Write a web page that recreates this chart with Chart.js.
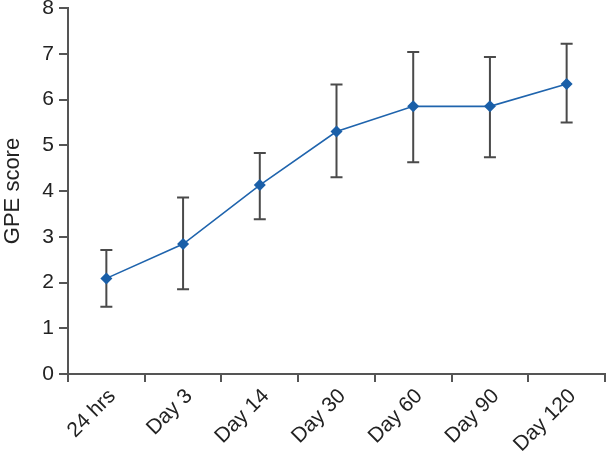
<!DOCTYPE html>
<html><head><meta charset="utf-8">
<script src="https://cdn.jsdelivr.net/npm/chart.js@4/dist/chart.umd.min.js"></script>
<style>html,body{margin:0;padding:0;background:#fff;overflow:hidden}#wrap{width:607px;height:456px;overflow:hidden}</style>
</head><body><div id="wrap"><canvas id="c" width="611" height="456"></canvas></div>
<script>
const categories = ["24 hrs","Day 3","Day 14","Day 30","Day 60","Day 90","Day 120"];
const meanScore = [2.09, 2.84, 4.13, 5.30, 5.85, 5.85, 6.34];
const upperBound = [2.71, 3.86, 4.83, 6.33, 7.04, 6.93, 7.22];
const lowerBound = [1.47, 1.85, 3.38, 4.30, 4.63, 4.74, 5.50];
const yTicks = [0,1,2,3,4,5,6,7,8];

const errorBars = {
  id: 'errorBars',
  beforeDatasetsDraw(chart) {
    const ctx = chart.ctx, xs = chart.scales.x, ys = chart.scales.y;
    ctx.save();
    ctx.strokeStyle = '#4a4a4a';
    ctx.lineWidth = 2;
    categories.forEach((c, i) => {
      const x = xs.getPixelForValue(i);
      const yt = ys.getPixelForValue(upperBound[i]);
      const yb = ys.getPixelForValue(lowerBound[i]);
      ctx.beginPath();
      ctx.moveTo(x, yt); ctx.lineTo(x, yb);
      ctx.moveTo(x - 6, yt); ctx.lineTo(x + 6, yt);
      ctx.moveTo(x - 6, yb); ctx.lineTo(x + 6, yb);
      ctx.stroke();
    });
    ctx.restore();
  }
};

const fam = "'Liberation Sans', Arial, sans-serif";
new Chart(document.getElementById('c'), {
  type: 'line',
  data: {
    labels: categories,
    datasets: [{
      data: meanScore,
      borderColor: '#1f64ad',
      backgroundColor: '#1a5fa8',
      borderWidth: 1.6,
      pointStyle: 'rectRot',
      pointRadius: 6,
      pointBorderWidth: 0,
      tension: 0
    }]
  },
  plugins: [errorBars],
  options: {
    responsive: false,
    animation: false,
    layout: {padding: {top: 0, right: 0, bottom: 0, left: 0}},
    plugins: {legend: {display: false}, tooltip: {enabled: false}},
    scales: {
      x: {
        offset: true,
        afterFit(s) { s.height = 82; s.paddingLeft = 0; s.paddingRight = 0; },
        grid: {offset: true, drawOnChartArea: false, tickLength: 8, tickColor: '#555', lineWidth: 2},
        border: {color: '#555', width: 2},
        ticks: {font: {family: fam, size: 21}, color: '#222', minRotation: 45, maxRotation: 45, padding: 2, labelOffset: 6}
      },
      y: {
        min: 0, max: 8,
        afterBuildTicks(s) { s.ticks = yTicks.map(v => ({value: v})); },
        afterFit(s) { s.width = 68; s.paddingTop = 8; s.paddingBottom = 0; },
        grid: {drawOnChartArea: false, tickLength: 9, tickColor: '#555', lineWidth: 2},
        border: {color: '#555', width: 2},
        ticks: {font: {family: fam, size: 21}, color: '#222', padding: 5},
        title: {display: true, text: 'GPE score', font: {family: fam, size: 22}, color: '#222', padding: {top: 0, bottom: 2}}
      }
    }
  }
});
</script></body></html>
